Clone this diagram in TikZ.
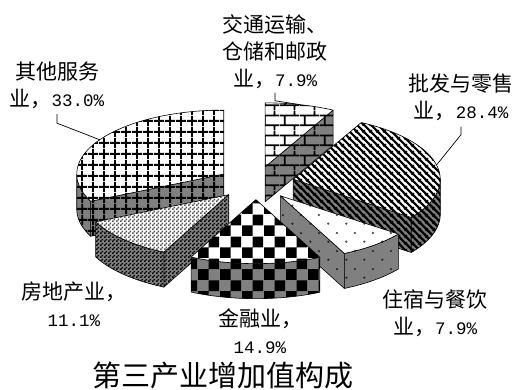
\documentclass[tikz,border=0pt]{standalone}
\usepackage{fontspec}
\setmainfont{Noto Sans CJK SC}
\newfontfamily\numfont{Liberation Mono}
\usetikzlibrary{patterns}

\pgfdeclarepatternformonly{gridB}{\pgfpointorigin}{\pgfqpoint{11pt}{11pt}}{\pgfqpoint{11pt}{11pt}}{%
  \pgfsetlinewidth{2pt}%
  \pgfpathmoveto{\pgfqpoint{5.5pt}{0pt}}\pgfpathlineto{\pgfqpoint{5.5pt}{11pt}}%
  \pgfpathmoveto{\pgfqpoint{0pt}{5.5pt}}\pgfpathlineto{\pgfqpoint{11pt}{5.5pt}}%
  \pgfusepath{stroke}}
\pgfdeclarepatternformonly{checkB}{\pgfpointorigin}{\pgfqpoint{22pt}{22pt}}{\pgfqpoint{22pt}{22pt}}{%
  \pgfpathrectangle{\pgfpointorigin}{\pgfqpoint{11pt}{11pt}}%
  \pgfpathrectangle{\pgfqpoint{11pt}{11pt}}{\pgfqpoint{11pt}{11pt}}%
  \pgfusepath{fill}}
\pgfdeclarepatternformonly{checkS}{\pgfpointorigin}{\pgfqpoint{4pt}{4pt}}{\pgfqpoint{4pt}{4pt}}{%
  \pgfpathrectangle{\pgfpointorigin}{\pgfqpoint{2pt}{2pt}}%
  \pgfpathrectangle{\pgfqpoint{2pt}{2pt}}{\pgfqpoint{2pt}{2pt}}%
  \pgfusepath{fill}}
\pgfdeclarepatternformonly{brickB}{\pgfpointorigin}{\pgfqpoint{20pt}{20pt}}{\pgfqpoint{20pt}{20pt}}{%
  \pgfsetlinewidth{1.8pt}%
  \pgfpathmoveto{\pgfqpoint{0pt}{5pt}}\pgfpathlineto{\pgfqpoint{20pt}{5pt}}%
  \pgfpathmoveto{\pgfqpoint{0pt}{15pt}}\pgfpathlineto{\pgfqpoint{20pt}{15pt}}%
  \pgfpathmoveto{\pgfqpoint{5pt}{5pt}}\pgfpathlineto{\pgfqpoint{5pt}{15pt}}%
  \pgfpathmoveto{\pgfqpoint{15pt}{15pt}}\pgfpathlineto{\pgfqpoint{15pt}{20pt}}%
  \pgfpathmoveto{\pgfqpoint{15pt}{0pt}}\pgfpathlineto{\pgfqpoint{15pt}{5pt}}%
  \pgfusepath{stroke}}
\pgfdeclarepatternformonly{stripeB}{\pgfpointorigin}{\pgfqpoint{7pt}{7pt}}{\pgfqpoint{7pt}{7pt}}{%
  \pgfsetlinewidth{2.5pt}%
  \pgfpathmoveto{\pgfqpoint{-1pt}{8pt}}\pgfpathlineto{\pgfqpoint{8pt}{-1pt}}%
  \pgfpathmoveto{\pgfqpoint{-1pt}{1pt}}\pgfpathlineto{\pgfqpoint{1pt}{-1pt}}%
  \pgfpathmoveto{\pgfqpoint{6pt}{8pt}}\pgfpathlineto{\pgfqpoint{8pt}{6pt}}%
  \pgfusepath{stroke}}
\pgfdeclarepatternformonly{dotB}{\pgfpointorigin}{\pgfqpoint{18pt}{18pt}}{\pgfqpoint{18pt}{18pt}}{%
  \pgfpathcircle{\pgfqpoint{4.5pt}{4.5pt}}{1.3pt}%
  \pgfpathcircle{\pgfqpoint{13.5pt}{13.5pt}}{1.3pt}%
  \pgfusepath{fill}}

\newcommand{\chartlabelfont}{\fontsize{21pt}{27pt}\selectfont}
\newcommand{\numtext}[1]{{\numfont\fontsize{17.5pt}{27pt}\selectfont #1}}
\newcommand{\pieCx}{256}
\newcommand{\pieCy}{183}
\newcommand{\pieRx}{147}
\newcommand{\pieRy}{64}
\newcommand{\pieH}{35}
\newcommand{\pieE}{0.26}

\newcommand{\pieslice}[5]{%
  \pgfmathsetmacro{\pieTm}{(#1+#2)/2}%
  \pgfmathsetmacro{\pieOx}{\pieCx+\pieE*\pieRx*sin(\pieTm)}%
  \pgfmathsetmacro{\pieOy}{\pieCy-\pieE*\pieRy*cos(\pieTm)}%
  \pgfmathtruncatemacro{\pieVa}{sin(#1)<-0.01}%
  \pgfmathtruncatemacro{\pieVb}{sin(#2)>0.01}%
  \pgfmathsetmacro{\pieSa}{max(#1,90)}%
  \pgfmathsetmacro{\pieSb}{min(#2,270)}%
  \pgfmathtruncatemacro{\pieVs}{\pieSb>\pieSa}%
  \ifnum\pieVa=1
    \path[#4] (\pieOx,\pieOy) -- ({\pieOx+\pieRx*sin(#1)},{\pieOy-\pieRy*cos(#1)}) -- ++(0,\pieH) -- (\pieOx,{\pieOy+\pieH}) -- cycle;
  \fi
  \ifnum\pieVb=1
    \path[#4] (\pieOx,\pieOy) -- ({\pieOx+\pieRx*sin(#2)},{\pieOy-\pieRy*cos(#2)}) -- ++(0,\pieH) -- (\pieOx,{\pieOy+\pieH}) -- cycle;
  \fi
  \ifnum\pieVs=1
    \path[#4] plot[domain=\pieSa:\pieSb, samples=30] ({\pieOx+\pieRx*sin(\x)},{\pieOy-\pieRy*cos(\x)}) -- plot[domain=\pieSb:\pieSa, samples=30] ({\pieOx+\pieRx*sin(\x)},{\pieOy-\pieRy*cos(\x)+\pieH}) -- cycle;
  \fi
  \path[#3] (\pieOx,\pieOy) -- plot[domain=#1:#2, samples=40] ({\pieOx+\pieRx*sin(\x)},{\pieOy-\pieRy*cos(\x)}) -- cycle;
  \coordinate (#5) at ({\pieOx+\pieRx*sin(\pieTm)},{\pieOy-\pieRy*cos(\pieTm)});
}

\tikzset{
  faceedge/.style={draw=black, line width=0.6pt, line join=round},
  otherTop/.style={faceedge, preaction={fill=white}, pattern=gridB, pattern color=black},
  otherSide/.style={faceedge, preaction={fill=gray}, pattern=gridB, pattern color=black},
  transTop/.style={faceedge, preaction={fill=white}, pattern=brickB, pattern color=black},
  transSide/.style={faceedge, preaction={fill=gray}, pattern=brickB, pattern color=black},
  tradeTop/.style={faceedge, preaction={fill=white}, pattern=stripeB, pattern color=black},
  tradeSide/.style={faceedge, preaction={fill=gray}, pattern=stripeB, pattern color=black},
  hotelTop/.style={faceedge, preaction={fill=white}, pattern=dotB, pattern color=gray!60!black},
  hotelSide/.style={faceedge, preaction={fill=gray}, pattern=dotB, pattern color=black!85},
  finTop/.style={faceedge, preaction={fill=white}, pattern=checkB, pattern color=black},
  finSide/.style={faceedge, preaction={fill=gray}, pattern=checkB, pattern color=black},
  estTop/.style={faceedge, preaction={fill=white}, pattern=checkS, pattern color=black!65},
  estSide/.style={faceedge, preaction={fill=gray}, pattern=checkS, pattern color=black},
  lbl/.style={inner sep=0pt, align=center, font=\chartlabelfont},
  leader/.style={draw=black, line width=0.7pt},
}

\begin{document}
\begin{tikzpicture}[x=1pt, y=-1pt]
  \useasboundingbox (0,0) rectangle (516,389);
  \fill[white] (0,0) rectangle (516,389);

  % slices, back to front
  \pieslice{0}{27.558}{transTop}{transSide}{midTrans}
  \pieslice{244.884}{360}{otherTop}{otherSide}{midOther}
  \pieslice{27.558}{126.628}{tradeTop}{tradeSide}{midTrade}
  \pieslice{206.163}{244.884}{estTop}{estSide}{midEst}
  \pieslice{126.628}{154.186}{hotelTop}{hotelSide}{midHotel}
  \pieslice{154.186}{206.163}{finTop}{finSide}{midFin}

  % labels
  \node[lbl] (lblTrans) at (275,51.5) {交通运输、\\仓储和邮政\\业，\numtext{7.9\%}};
  \node[lbl] (lblTrade) at (461,97) {批发与零售\\业，\numtext{28.4\%}};
  \node[lbl] (lblOther) at (57,85.5) {其他服务\\业，\numtext{33.0\%}};
  \node[lbl] (lblEst) at (74,304) {房地产业，\\\numtext{11.1\%}};
  \node[lbl] (lblFin) at (260,331) {金融业，\\\numtext{14.9\%}};
  \node[lbl] (lblHotel) at (435,313) {住宿与餐饮\\业，\numtext{7.9\%}};
  \node[inner sep=0pt, font=\fontsize{29pt}{29pt}\selectfont] (title) at (223,375) {第三产业增加值构成};

  % leader lines
  \draw[leader] (lblTrans.south) ++(0,4) -- ++(0,8) -- (midTrans);
  \draw[leader] (lblTrade.south) ++(0,6) -- ++(0,8) -- (midTrade);
  \draw[leader] (lblOther.south) ++(0,5) -- ++(0,9) -- (midOther);
\end{tikzpicture}
\end{document}
